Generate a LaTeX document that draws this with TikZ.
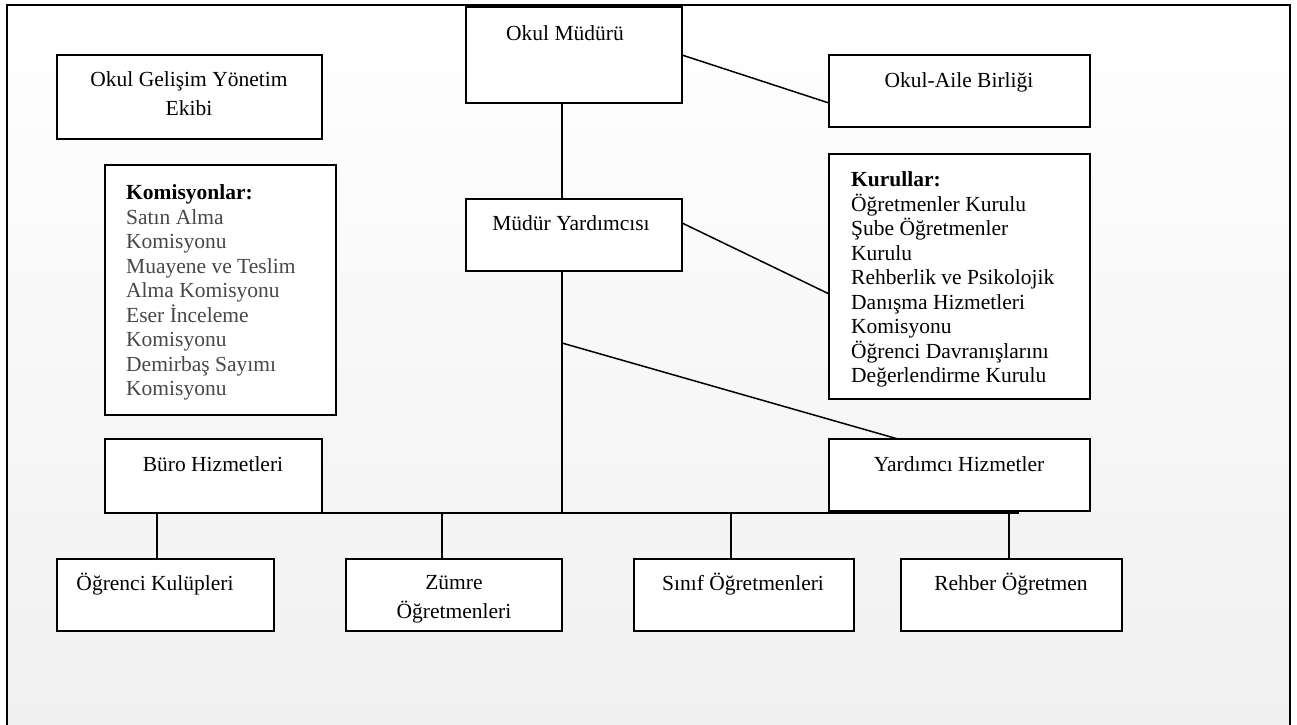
\documentclass[tikz,border=0pt]{standalone}
\usepackage{fontspec}
\setmainfont{Liberation Serif}
\usetikzlibrary{calc}
\begin{document}
\begin{tikzpicture}[x=1pt,y=-1pt,
  box/.style={draw,line width=1.8pt,fill=white,outer sep=0pt,inner sep=0pt,anchor=north west},
  lbl/.style={inner sep=0pt,anchor=base,font=\fontsize{21.5}{24.5}\selectfont},
  mlbl/.style={inner sep=0pt,anchor=north,align=center,font=\fontsize{21.5}{28.5}\selectfont},
  lst/.style={inner sep=0pt,anchor=north west,align=left,font=\fontsize{21.5}{24.5}\selectfont},
  conn/.style={line width=1.5pt}]
\useasboundingbox (0,0) rectangle (1297,724);
\clip (0,0) rectangle (1297,724);
\fill[white] (0,0) rectangle (1297,724);
\draw[line width=2pt, top color=white, bottom color=black!6] (7,5) rectangle (1290,745);

% boxes
\node[box,minimum width=216,minimum height=96] (mudur) at (466,7) {};
\node[box,minimum width=265,minimum height=84] (ogye) at (57,55) {};
\node[box,minimum width=231,minimum height=250] (komis) at (105,165) {};
\node[box,minimum width=216,minimum height=72] (yard) at (466,199) {};
\node[box,minimum width=261,minimum height=72] (aile) at (829,55) {};
\node[box,minimum width=261,minimum height=245] (kur) at (829,154) {};
\node[box,minimum width=217,minimum height=74] (buro) at (105,439) {};
\node[box,minimum width=261,minimum height=72] (yh) at (829,439) {};
\node[box,minimum width=217,minimum height=72] (ok) at (57,559) {};
\node[box,minimum width=216,minimum height=72] (zum) at (346,559) {};
\node[box,minimum width=220,minimum height=72] (sin) at (634,559) {};
\node[box,minimum width=221,minimum height=72] (reh) at (901,559) {};

% texts
\node[lbl] (mudur-t) at (565,40) {Okul Müdürü};
\node[mlbl] (ogye-t) at (189,71.5) {Okul Gelişim Yönetim\\Ekibi};
\node[lst] (komis-t) at (126,184.5) {\textbf{Komisyonlar:}\\
  \textcolor{black!72}{Satın Alma}\\
  \textcolor{black!72}{Komisyonu}\\
  \textcolor{black!72}{Muayene ve Teslim}\\
  \textcolor{black!72}{Alma Komisyonu}\\
  \textcolor{black!72}{Eser İnceleme}\\
  \textcolor{black!72}{Komisyonu}\\
  \textcolor{black!72}{Demirbaş Sayımı}\\
  \textcolor{black!72}{Komisyonu}};
\node[lbl] (yard-t) at (571,230) {Müdür Yardımcısı};
\node[lbl] (aile-t) at (959,87) {Okul-Aile Birliği};
\node[lst] (kur-t) at (851,171.5) {\textbf{Kurullar:}\\
  Öğretmenler Kurulu\\
  Şube Öğretmenler\\
  Kurulu\\
  Rehberlik ve Psikolojik\\
  Danışma Hizmetleri\\
  Komisyonu\\
  Öğrenci Davranışlarını\\
  Değerlendirme Kurulu};
\node[lbl] (buro-t) at (213,471) {Büro Hizmetleri};
\node[lbl] (yh-t) at (959,471) {Yardımcı Hizmetler};
\node[lbl] (ok-t) at (155,590) {Öğrenci Kulüpleri};
\node[mlbl] (zum-t) at (454,575.5) {Zümre\\Öğretmenleri};
\node[lbl] (sin-t) at (743,590) {Sınıf Öğretmenleri};
\node[lbl] (reh-t) at (1011,590) {Rehber Öğretmen};

% connector helpers
\coordinate (sp) at (562,0);
\coordinate (bus) at (0,513);
\coordinate (busend) at (1019,513);
\coordinate (d0) at (562,343);
\coordinate (x1) at (157,0);
\coordinate (x2) at (442,0);
\coordinate (x3) at (731,0);
\coordinate (x4) at (1009,0);

% connectors
\draw[conn] (mudur.south -| sp) -- (yard.north -| sp);
\draw[conn] (mudur.east |- aile.north) -- ($(aile.south west)!0.333!(aile.north west)$);
\draw[conn] ($(yard.north east)!0.333!(yard.south east)$) -- ($(kur.north west)!0.571!(kur.south west)$);
\draw[conn] (yard.south -| sp) -- (sp |- bus);
\draw[conn] (d0) -- ($(yh.north west)+(69,0)$);
\draw[conn] (buro.south east) -- (busend);
\draw[conn] (x1 |- bus) -- (ok.north -| x1);
\draw[conn] (x2 |- bus) -- (zum.north -| x2);
\draw[conn] (x3 |- bus) -- (sin.north -| x3);
\draw[conn] (x4 |- yh.south) -- (reh.north -| x4);
\end{tikzpicture}
\end{document}
